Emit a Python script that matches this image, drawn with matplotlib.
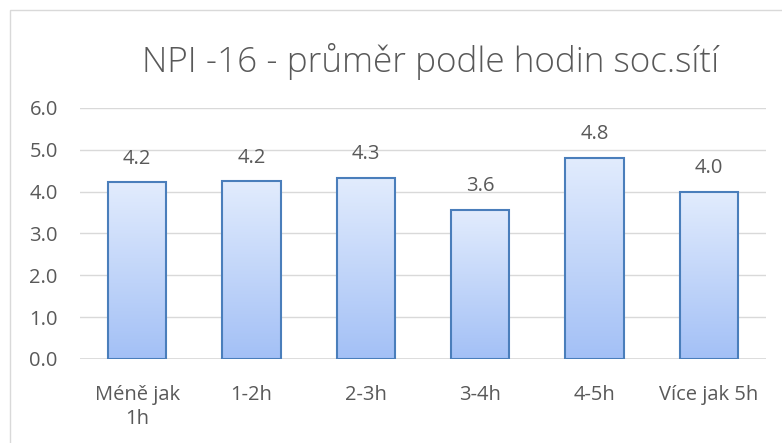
import numpy as np
import matplotlib.pyplot as plt
from matplotlib.patches import Rectangle
from matplotlib.colors import LinearSegmentedColormap

plt.rcParams['font.family'] = ['Open Sans', 'DejaVu Sans']

categories = ['Méně jak\n1h', '1-2h', '2-3h', '3-4h', '4-5h', 'Více jak 5h']
values = [4.22, 4.25, 4.33, 3.56, 4.81, 4.00]
labels = ['4.2', '4.2', '4.3', '3.6', '4.8', '4.0']

text_col = '#595959'

fig = plt.figure(figsize=(7.82, 4.43), dpi=100)
# chart border like excel
fig.patches.append(Rectangle((10 / 782, -0.1), 1.2, 1 - 10 / 443 + 0.1,
                             transform=fig.transFigure, fill=False,
                             edgecolor='#d9d9d9', linewidth=1))

ax = fig.add_axes([80 / 782, 84 / 443, 686 / 782, 251 / 443])
x = np.arange(len(categories))
bars = ax.bar(x, values, width=0.51, color='none', edgecolor='#4a7ebb',
              linewidth=1.5, zorder=3)

# vertical gradient in each bar
grad = np.linspace(0, 1, 256).reshape(-1, 1)
cmap = LinearSegmentedColormap.from_list('g', ['#a3c0f6', '#e2ecfd'])
for b in bars:
    x0, y0 = b.get_x(), b.get_y()
    w, h = b.get_width(), b.get_height()
    im = ax.imshow(grad, cmap=cmap, origin='lower', aspect='auto',
                   extent=[x0, x0 + w, y0, y0 + h], zorder=2)
    im.set_clip_path(b)

for xi, v, lab in zip(x, values, labels):
    ax.annotate(lab, (xi, v), xytext=(0, 17), textcoords='offset points',
                ha='center', va='center', fontsize=14.5, color=text_col)

ax.set_xlim(-0.5, len(categories) - 0.5)
ax.set_ylim(0, 6)
ax.set_yticks(np.arange(0, 6.1, 1))
ax.set_yticklabels([f'{t:.1f}' for t in np.arange(0, 6.1, 1)])
ax.set_xticks(x)
ax.set_xticklabels(categories, linespacing=1.25)
ax.tick_params(length=0, labelsize=14.5, labelcolor=text_col)
ax.tick_params(axis='x', pad=19)
ax.tick_params(axis='y', pad=16)
ax.grid(axis='y', color='#d9d9d9', linewidth=1, zorder=0)
for s in ax.spines.values():
    s.set_visible(False)
ax.axhline(0, color='#d9d9d9', linewidth=1.2, zorder=1)

fig.text(431 / 782, 1 - 61 / 443, 'NPI -16 - průměr podle hodin soc.sítí',
         ha='center', va='center', fontsize=25.3, color=text_col,
         fontweight='light')

fig.savefig('out.png', dpi=100)
